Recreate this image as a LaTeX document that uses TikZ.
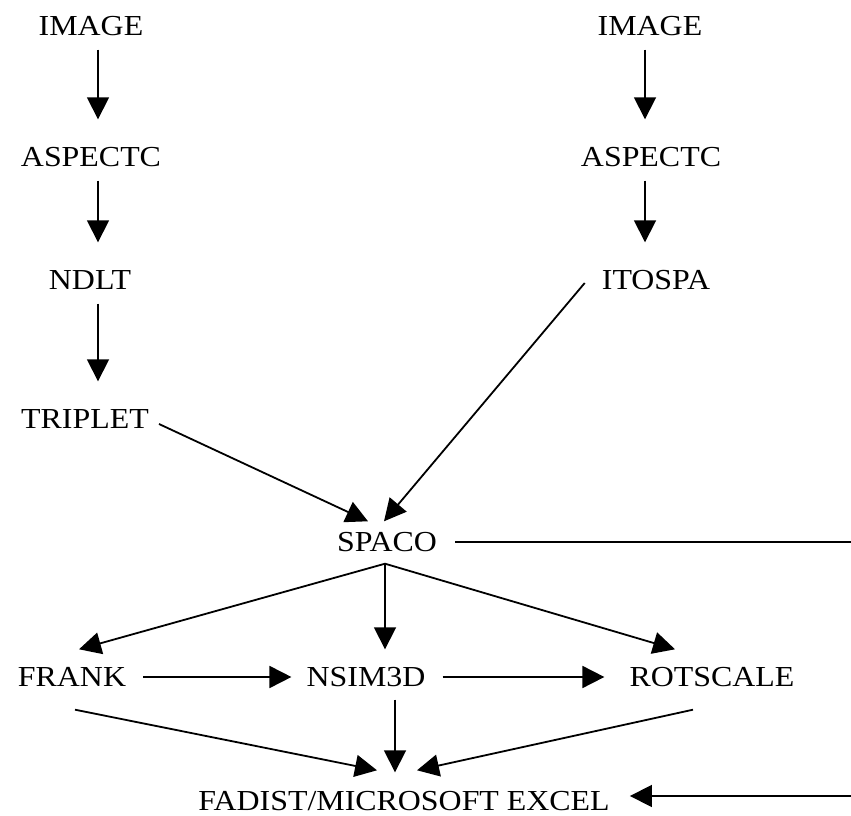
\documentclass[tikz,border=0pt]{standalone}
\usepackage{fontspec}
\setmainfont[FakeStretch=1.1]{Liberation Serif}
\usetikzlibrary{arrows.meta}
\begin{document}
\begin{tikzpicture}[x=1pt,y=1pt,
  lbl/.style={inner sep=0pt, text height=19pt, text depth=0pt,
              font=\fontsize{29}{32}\selectfont},
  arr/.style={line width=1.8pt, -{Triangle[length=22pt,width=22pt]}},
  ln/.style={line width=1.8pt},
  vgap/.style={shorten <=14pt, shorten >=28pt}]
\useasboundingbox (0,0) rectangle (851,816);

% left chain
\node[lbl] (imgL) at (91,790) {IMAGE};
\node[lbl] (aspL) at (91,659) {ASPECTC};
\node[lbl] (ndlt) at (90,536) {NDLT};
\node[lbl] (trip) at (85,397) {TRIPLET};
% right chain
\node[lbl] (imgR) at (650,790) {IMAGE};
\node[lbl] (aspR) at (651,659) {ASPECTC};
\node[lbl] (itospa) at (656,536) {ITOSPA};
% lower part
\node[lbl] (spaco) at (387,274) {SPACO};
\node[lbl] (frank) at (72,139) {FRANK};
\node[lbl] (nsim) at (366,139) {NSIM3D};
\node[lbl] (rot) at (712,139) {ROTSCALE};
\node[lbl] (fadist) at (404,15) {FADIST/MICROSOFT EXCEL};

\coordinate (edgeA) at (851,274);
\coordinate (edgeB) at (851,20);
\coordinate (fadIn) at ([xshift=20pt]fadist.east);

% vertical steps
\draw[arr,vgap] ([xshift=7pt]imgL.south) -- ([xshift=7pt]aspL.north);
\draw[arr,vgap] ([xshift=7pt]aspL.south) -- ([xshift=8pt]ndlt.north);
\draw[arr,vgap] ([xshift=8pt]ndlt.south) -- ([xshift=13pt]trip.north);
\draw[arr,vgap] ([xshift=-5pt]imgR.south) -- ([xshift=-6pt]aspR.north);
\draw[arr,vgap] ([xshift=-6pt]aspR.south) -- ([xshift=-11pt]itospa.north);

% into SPACO
\draw[arr] ([shift={(10pt,-5pt)}]trip.east) -- ([shift={(-19pt,11pt)}]spaco.north);
\draw[arr] ([shift={(-17pt,-3pt)}]itospa.west) -- ([shift={(-3pt,11pt)}]spaco.north);
\draw[ln] ([xshift=18pt]spaco.east) -- (edgeA);

% out of SPACO
\draw[arr] ([shift={(-2pt,-12pt)}]spaco.south) -- ([shift={(7pt,18pt)}]frank.north);
\draw[arr] ([shift={(-2pt,-12pt)}]spaco.south) -- ([shift={(19pt,18pt)}]nsim.north);
\draw[arr] ([shift={(-2pt,-12pt)}]spaco.south) -- ([shift={(-37pt,18pt)}]rot.north);

% middle row
\draw[arr] ([xshift=17pt]frank.east) -- ([xshift=-15pt]nsim.west);
\draw[arr] ([xshift=17pt]nsim.east) -- ([xshift=-25pt]rot.west);

% into FADIST
\draw[arr] ([shift={(3pt,-23pt)}]frank.south) -- ([shift={(-27pt,21pt)}]fadist.north);
\draw[arr] ([shift={(29pt,-13pt)}]nsim.south) -- ([shift={(-9pt,19pt)}]fadist.north);
\draw[arr] ([shift={(-19pt,-23pt)}]rot.south) -- ([shift={(13pt,21pt)}]fadist.north);
\draw[arr] (edgeB) -- (edgeB -| fadIn);
\end{tikzpicture}
\end{document}
